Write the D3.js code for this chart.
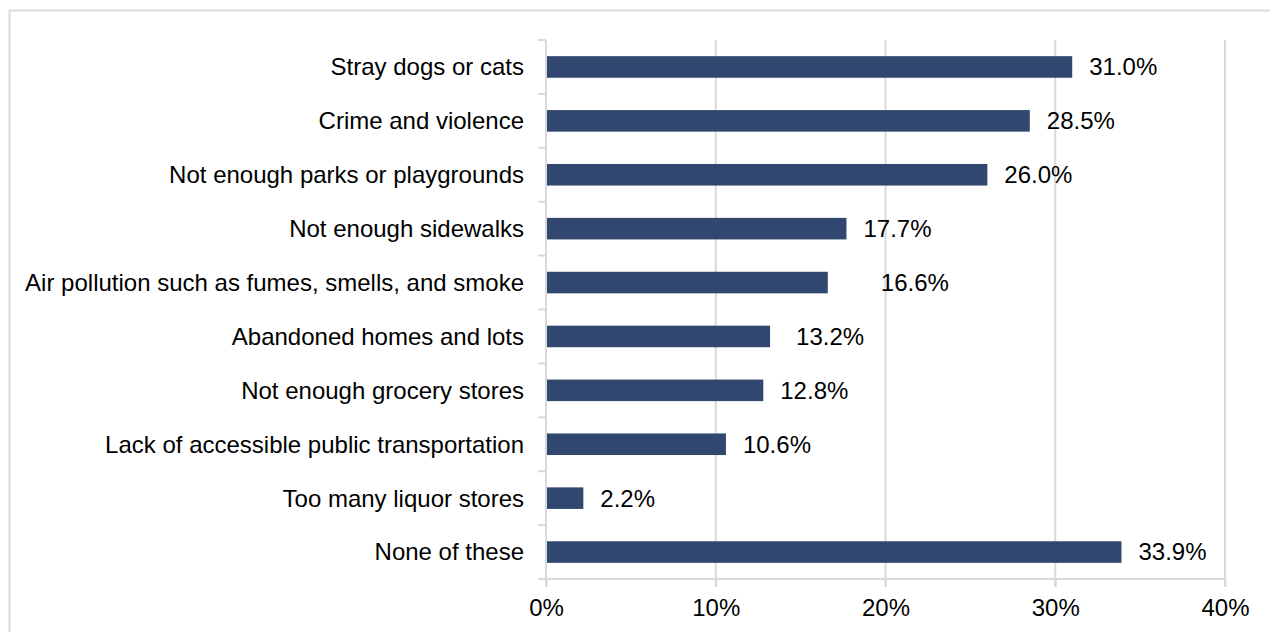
<!DOCTYPE html>
<html>
<head>
<meta charset="utf-8">
<script src="https://cdn.jsdelivr.net/npm/d3@7"></script>
<style>
  html, body { margin: 0; padding: 0; background: #fff; }
  svg { display: block; font-family: "Liberation Sans", Arial, sans-serif; }
</style>
</head>
<body>
<svg id="chart" width="1270" height="632"></svg>
<script>
const categories = [
  "Stray dogs or cats",
  "Crime and violence",
  "Not enough parks or playgrounds",
  "Not enough sidewalks",
  "Air pollution such as fumes, smells, and smoke",
  "Abandoned homes and lots",
  "Not enough grocery stores",
  "Lack of accessible public transportation",
  "Too many liquor stores",
  "None of these"
];
const values = [31.0, 28.5, 26.0, 17.7, 16.6, 13.2, 12.8, 10.6, 2.2, 33.9];
const xTicks = [0, 10, 20, 30, 40];

const svg = d3.select("#chart");
const gridColor = "#d9d9d9";
const barColor = "#31476f";
const fontSize = 24;

// outer border (only top and left visible in frame)
svg.append("rect")
  .attr("x", 9.5).attr("y", 10.5)
  .attr("width", 1300).attr("height", 700)
  .attr("fill", "none").attr("stroke", gridColor).attr("stroke-width", 2);

const x = d3.scaleLinear().domain([0, 40]).range([546, 1225]);
const y = d3.scaleBand().domain(categories).range([40, 579])
  .paddingInner(0.6).paddingOuter(0.3);
const step = y.step();

// vertical gridlines
svg.append("g").selectAll("line").data(xTicks.slice(1)).join("line")
  .attr("x1", d => x(d)).attr("x2", d => x(d))
  .attr("y1", 40).attr("y2", 587)
  .attr("stroke", gridColor).attr("stroke-width", 2);

// x axis
const xAxis = d3.axisBottom(x).tickValues(xTicks).tickFormat(d => d + "%")
  .tickSize(8).tickSizeOuter(0);
const gx = svg.append("g").attr("transform", "translate(0,579)").call(xAxis);
gx.select(".domain").remove();
gx.selectAll(".tick line").attr("stroke", gridColor).attr("stroke-width", 2);
gx.selectAll(".tick text").attr("font-size", fontSize).attr("fill", "#000")
  .attr("font-family", "Liberation Sans, Arial, sans-serif").attr("dy", "1.1em");
svg.append("line").attr("x1", 538).attr("x2", 1225).attr("y1", 579).attr("y2", 579)
  .attr("stroke", gridColor).attr("stroke-width", 2);

// y axis line and band boundary ticks
svg.append("line").attr("x1", 546).attr("x2", 546).attr("y1", 40).attr("y2", 587)
  .attr("stroke", gridColor).attr("stroke-width", 2);
const boundaries = d3.range(categories.length + 1).map(i => 40 + i * step);
svg.append("g").selectAll("line").data(boundaries).join("line")
  .attr("x1", 538).attr("x2", 546).attr("y1", d => d).attr("y2", d => d)
  .attr("stroke", gridColor).attr("stroke-width", 2);

// category labels
svg.append("g").selectAll("text").data(categories).join("text")
  .attr("x", 524).attr("y", d => y(d) + y.bandwidth() / 2)
  .attr("dy", "0.35em").attr("text-anchor", "end")
  .attr("font-size", fontSize).attr("fill", "#000")
  .text(d => d);

// bars
svg.append("g").selectAll("rect").data(values).join("rect")
  .attr("x", x(0) + 1).attr("y", (d, i) => y(categories[i]))
  .attr("width", d => x(d) - x(0) - 1).attr("height", y.bandwidth())
  .attr("fill", barColor);

// value labels (some labels nudged as in the original)
const nudge = { "Air pollution such as fumes, smells, and smoke": 36, "Abandoned homes and lots": 9 };
svg.append("g").selectAll("text").data(values).join("text")
  .attr("x", (d, i) => x(d) + 17 + (nudge[categories[i]] || 0))
  .attr("y", (d, i) => y(categories[i]) + y.bandwidth() / 2)
  .attr("dy", "0.35em")
  .attr("font-size", fontSize).attr("fill", "#000")
  .text(d => d.toFixed(1) + "%");
</script>
</body>
</html>
